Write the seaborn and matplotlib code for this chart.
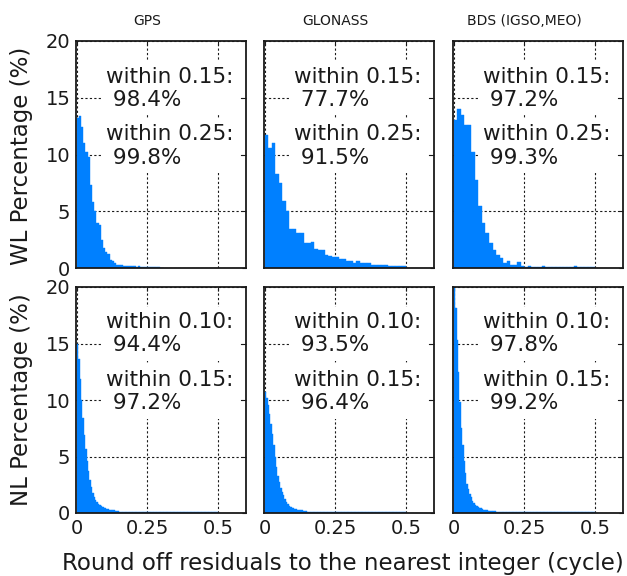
import numpy as np
import pandas as pd
import seaborn as sns
import matplotlib
matplotlib.use("Agg")
import matplotlib.pyplot as plt
import matplotlib.transforms as mtransforms

# ---------------- data ----------------
systems = ["GPS", "GLONASS", "BDS (IGSO,MEO)"]
x_ticks = [0, 0.25, 0.5]
x_tick_labels = ["0", "0.25", "0.5"]
y_ticks = [0, 5, 10, 15, 20]

# bin widths (cycle)
wl_bin_width = [0.00775, 0.0125, 0.0125]
nl_bin_width = [0.005, 0.005, 0.005]

# WL histogram heights (%)
gps_wl = [13.2, 13.4, 12.4, 11.0, 10.2, 9.8, 7.3, 5.8, 5.0, 4.0, 3.8, 2.5, 1.8, 1.4,
          1.2, 0.7, 0.6, 0.4, 0.3, 0.25, 0.25, 0.2, 0.2, 0.15, 0.2, 0.15, 0.15, 0.1,
          0.15, 0.1, 0.1, 0.1, 0.08, 0.08, 0.05, 0.05, 0.05, 0.05, 0.03, 0.03]
glo_wl = [11.7, 10.6, 11.0, 8.25, 7.5, 5.9, 5.0, 3.4, 3.4, 3.05, 3.1, 2.2, 2.2, 2.3,
          1.65, 1.6, 1.55, 1.15, 1.1, 1.0, 0.95, 0.8, 0.75, 0.65, 0.6, 0.4, 0.6, 0.4,
          0.4, 0.45, 0.3, 0.3, 0.3, 0.3, 0.25, 0.2, 0.2, 0.2, 0.15, 0.15]
bds_wl = [13.0, 14.0, 13.5, 12.6, 12.6, 10.25, 7.75, 5.5, 4.0, 3.1, 2.2, 1.6, 1.15,
          0.85, 0.4, 0.65, 0.25, 0.25, 0.55, 0.15, 0.12, 0.15, 0.1, 0.12, 0.1, 0.2,
          0.1, 0.1, 0.12, 0.1, 0.08, 0.1, 0.08, 0.1, 0.2, 0.1, 0.05, 0.05, 0.05, 0.05]

# NL histogram heights (%), first 30 bins then tail
gps_nl = [15.0, 13.6, 11.9, 10.0, 8.4, 6.9, 5.7, 4.6, 3.7, 2.9, 2.3, 1.8, 1.4, 1.15,
          0.95, 0.8, 0.7, 0.6, 0.52, 0.45, 0.4, 0.37, 0.33, 0.3, 0.28, 0.26, 0.24,
          0.22, 0.2, 0.19]
glo_nl = [10.7, 10.2, 9.6, 8.8, 7.9, 7.0, 6.0, 5.0, 4.1, 3.3, 2.7, 2.2, 1.9, 1.55,
          1.25, 1.0, 0.8, 0.65, 0.55, 0.48, 0.42, 0.38, 0.34, 0.3, 0.27, 0.25, 0.23,
          0.21, 0.19, 0.18]
bds_nl = [19.9, 18.1, 15.3, 12.5, 9.8, 7.5, 6.0, 4.6, 3.5, 2.6, 2.1, 1.7, 1.4, 1.1,
          0.9, 0.75, 0.62, 0.52, 0.45, 0.4, 0.35, 0.3, 0.27, 0.24, 0.22, 0.2, 0.18,
          0.16, 0.15, 0.14]
nl_tail = [0.12, 0.11, 0.1, 0.1, 0.09, 0.09, 0.08, 0.08, 0.08, 0.07, 0.07, 0.07,
           0.07, 0.06, 0.06, 0.06, 0.06, 0.06, 0.05, 0.05, 0.05, 0.05, 0.05, 0.05,
           0.05, 0.05, 0.05, 0.05, 0.05, 0.05, 0.05, 0.05, 0.05, 0.05, 0.05, 0.05,
           0.05, 0.05, 0.05, 0.05, 0.05, 0.05, 0.05, 0.05, 0.05, 0.05, 0.05, 0.05,
           0.05, 0.05, 0.05, 0.05, 0.05, 0.05, 0.05, 0.05, 0.05, 0.05, 0.05, 0.05,
           0.05, 0.05, 0.05, 0.05, 0.05, 0.05, 0.05, 0.05, 0.05, 0.05]

wl_stats = [("within 0.15:", "98.4%", "within 0.25:", "99.8%"),
            ("within 0.15:", "77.7%", "within 0.25:", "91.5%"),
            ("within 0.15:", "97.2%", "within 0.25:", "99.3%")]
nl_stats = [("within 0.10:", "94.4%", "within 0.15:", "97.2%"),
            ("within 0.10:", "93.5%", "within 0.15:", "96.4%"),
            ("within 0.10:", "97.8%", "within 0.15:", "99.2%")]

wl_data = [gps_wl, glo_wl, bds_wl]
nl_data = [gps_nl + nl_tail, glo_nl + nl_tail, bds_nl + nl_tail]

# ---------------- plot ----------------
sns.set_theme(style="white")
plt.rcParams["font.family"] = ["DejaVu Sans"]
plt.rcParams["text.color"] = "black"

W, H = 627, 576
fig = plt.figure(figsize=(W / 100, H / 100), dpi=100)

bar_color = "#0080ff"
lefts = [76, 264, 453]
aw = 170
rows = [(41, 268), (287, 513)]


def ax_rect(l, top, bottom):
    return [l / W, 1 - bottom / H, aw / W, (bottom - top) / H]


for r, (data_row, stats_row, bw_row) in enumerate(
        [(wl_data, wl_stats, wl_bin_width), (nl_data, nl_stats, nl_bin_width)]):
    for c in range(3):
        ax = fig.add_axes(ax_rect(lefts[c], *rows[r]))
        heights = np.array(data_row[c], dtype=float)
        bw = bw_row[c]
        edges = [i * bw for i in range(len(heights) + 1)]
        centers = [(i + 0.5) * bw for i in range(len(heights))]
        df = pd.DataFrame({"x": centers, "w": heights})
        sns.histplot(data=df, x="x", weights="w", bins=edges, ax=ax,
                     color=bar_color, alpha=1, edgecolor=bar_color, linewidth=0.3,
                     zorder=2)
        ax.set_xlim(-0.0025, 0.6)
        ax.set_ylim(0, 20)
        ax.set_xticks(x_ticks)
        ax.set_yticks(y_ticks)
        ax.set_xlabel("")
        ax.set_ylabel("")
        if r == 1:
            ax.set_xticklabels(x_tick_labels, fontsize=14)
        else:
            ax.set_xticklabels([])
        if c == 0:
            ax.set_yticklabels([str(v) for v in y_ticks], fontsize=14)
        else:
            ax.set_yticklabels([])
        ax.tick_params(direction="in", length=3, width=0.8, top=True, right=True,
                       pad=4, colors="k", labelcolor="k")
        ax.grid(True, color="k", linestyle=(0, (2, 2)), linewidth=0.8)
        ax.set_axisbelow(True)
        for s in ax.spines.values():
            s.set_color("k")
            s.set_linewidth(1.3)
        s1, p1, s2, p2 = stats_row[c]
        box = dict(facecolor="white", edgecolor="none", pad=4)
        ax.text(0.105, 15.85, s1 + "\n " + p1, fontsize=15.5, ha="left",
                va="center", bbox=box, zorder=5, linespacing=1.2, color="k")
        ax.text(0.105, 10.75, s2 + "\n " + p2, fontsize=15.5, ha="left",
                va="center", bbox=box, zorder=5, linespacing=1.2, color="k")
        if r == 0:
            trans = mtransforms.blended_transform_factory(ax.transData, ax.transAxes)
            ax.text(0.25, 1.09, systems[c], transform=trans, ha="center",
                    va="center", fontsize=10, color="k")

fig.text(21.5 / W, 1 - 156 / H, "WL Percentage (%)", rotation=90, ha="center",
         va="center", fontsize=16.5, color="k")
fig.text(21.5 / W, 1 - 400 / H, "NL Percentage (%)", rotation=90, ha="center",
         va="center", fontsize=16.5, color="k")
fig.text(62 / W, 1 - 570 / H, "Round off residuals to the nearest integer (cycle)",
         ha="left", va="baseline", fontsize=16.5, color="k")

fig.savefig("out.png", dpi=100)
